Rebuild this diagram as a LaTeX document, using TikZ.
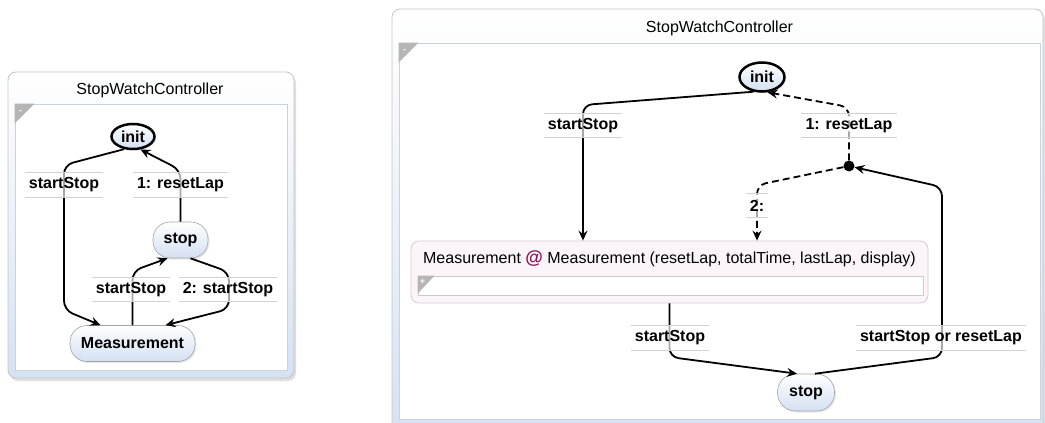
\documentclass[tikz,border=0pt]{standalone}
\usepackage{fontspec}
\setmainfont{Liberation Sans}
\usetikzlibrary{arrows.meta,shadows,calc,shapes.geometric}

\definecolor{nodeblue}{HTML}{D3E0F2}
\definecolor{nodeline}{HTML}{A4A4A4}
\definecolor{panelblue}{HTML}{D5E2F3}
\definecolor{panelline}{HTML}{C4C4C4}
\definecolor{innerline}{HTML}{C9D3DF}
\definecolor{lblline}{HTML}{D2D2D2}
\definecolor{triangray}{HTML}{B5B5B5}
\definecolor{mcfill}{HTML}{FBF5F9}
\definecolor{mcline}{HTML}{D6CBD2}
\definecolor{barline}{HTML}{CCCCCC}
\definecolor{atcolor}{HTML}{8A1454}

\tikzset{
  txt/.style={font=\fontsize{16}{19}\selectfont},
  boldtxt/.style={font=\fontsize{16}{19}\selectfont\bfseries},
  panel/.style={draw=panelline, line width=0.8pt, rounded corners=8pt,
    top color=white, bottom color=panelblue, inner sep=0,
    drop shadow={shadow xshift=2pt, shadow yshift=-3pt, opacity=0.25}},
  innerarea/.style={draw=innerline, fill=white, line width=0.8pt, inner sep=0},
  pill/.style={boldtxt, draw=nodeline, line width=0.6pt, top color=white,
    bottom color=nodeblue, inner sep=0,
    drop shadow={shadow xshift=1.5pt, shadow yshift=-1.5pt, opacity=0.18}},
  initstate/.style={boldtxt, ellipse, draw=black, line width=2.5pt, top color=white,
    bottom color=nodeblue, inner sep=0,
    drop shadow={shadow xshift=1.5pt, shadow yshift=-1.5pt, opacity=0.18}},
  edge/.style={draw=black, line width=1.8pt, rounded corners=9pt,
    -{Stealth[length=10pt,width=9pt,inset=3.5pt]}},
  dashedge/.style={edge, dash pattern=on 7pt off 4pt},
  tlabel/.style={boldtxt, inner xsep=4pt, inner ysep=0, minimum height=24pt,
    fill=white, fill opacity=0.65, text opacity=1},
  foldmark/.style={font=\fontsize{9}{9}\selectfont\bfseries, text=white, inner sep=0},
}

% transition label with thin rules above and below
\newcommand{\translabel}[3]{%
  \node[tlabel] (#1) at #2 {#3};
  \draw[lblline, line width=0.8pt] (#1.north west) -- (#1.north east)
                                   (#1.south west) -- (#1.south east);}

\begin{document}
\begin{tikzpicture}[x=1pt,y=-1pt]
\useasboundingbox (0,0) rectangle (1045,423);

% ---------------- small controller ----------------
\node[panel, minimum width=286pt, minimum height=306pt] (lpanel) at (151,225) {};
\node[txt] (ltitle) at (150,90) {StopWatchController};
\node[innerarea, minimum width=272pt, minimum height=266pt] (linner) at (151,237) {};
\fill[triangray] (linner.north west) -- ++(20,0) -- ++(-20,20) -- cycle;
\node[foldmark] (lfold) at ($(linner.north west)+(6,8)$) {-};

\node[initstate, minimum width=43pt, minimum height=25pt] (li) at (133,136.5) {init};
\node[pill, rounded corners=17pt, minimum width=55pt, minimum height=36pt] (ls) at (180.5,240) {stop};
\node[pill, rounded corners=17pt, minimum width=125pt, minimum height=36pt] (lm) at (132.5,343.5) {Measurement};

\coordinate (b1) at (64,165);
\coordinate (b2) at (64,310);
\coordinate (c1) at (180.5,170);
\coordinate (d1) at (132.5,271);
\coordinate (e1) at (229,272);
\coordinate (e2) at (229,309);

\draw[edge] (li.235) -- (b1) -- (b2) -- ($(lm.north)+(-32,0)$);
\draw[edge] (ls.north) -- (c1) -- (li.300);
\draw[edge] (lm.north) -- (d1) -- ($(ls.south)+(-13,0)$);
\draw[edge] ($(ls.south)+(10,0)$) -- (e1) -- (e2) -- ($(lm.north)+(33,0)$);

\translabel{la}{(64,185)}{startStop}
\translabel{lb}{(180.5,185)}{1: resetLap}
\translabel{lc}{(131,289.5)}{startStop}
\translabel{ld}{(228,289.5)}{2: startStop}

% ---------------- large controller ----------------
\node[panel, minimum width=651pt, minimum height=431pt] (rpanel) at (717.5,224.5) {};
\node[txt] (rtitle) at (719.5,28) {StopWatchController};
\node[innerarea, minimum width=641pt, minimum height=376pt] (rinner) at (719.5,231) {};
\fill[triangray] (rinner.north west) -- ++(20,0) -- ++(-20,20) -- cycle;
\node[foldmark] (rfold) at ($(rinner.north west)+(6,8)$) {-};

\node[initstate, minimum width=45pt, minimum height=29pt] (ri) at (762,77) {init};
\node[pill, rounded corners=18pt, minimum width=57pt, minimum height=37pt] (rs) at (806,392.5) {stop};

% composite state
\node[draw=mcline, fill=mcfill, line width=0.8pt, rounded corners=8pt, inner sep=0,
      minimum width=517pt, minimum height=62pt] (mc) at (669.5,272) {};
\node[txt, inner sep=0] (mctitle) at (669.5,259)
  {Measurement \textcolor{atcolor}{\fontsize{18}{19}\selectfont\bfseries @} Measurement (resetLap, totalTime, lastLap, display)};
\node[draw=barline, fill=white, line width=0.8pt, inner sep=0,
      minimum width=505pt, minimum height=19pt] (mcbar) at (670.5,285.5) {};
\fill[triangray] (mcbar.north west) -- ++(17,0) -- ++(-17,18) -- cycle;
\node[foldmark] (mcfold) at ($(mcbar.north west)+(5,6)$) {+};

\node[circle, fill=black, inner sep=0, minimum size=11pt] (jn) at (849,166) {};

\coordinate (r1) at (583,105);
\coordinate (r2) at (849,107);
\coordinate (r3) at (757,185);
\coordinate (r4) at (669.5,357);
\coordinate (r5) at (942,357);
\coordinate (r6) at (942,187);

\draw[edge] (ri.240) -- (r1) -- (r1 |- mc.north);
\draw[dashedge] (jn) -- (r2) -- (ri.290);
\draw[dashedge] (jn) -- (r3) -- (r3 |- mc.north);
\draw[edge] (mc.south) -- (r4) -- ($(rs.north)+(-9,0)$);
\draw[edge] ($(rs.north)+(9,0)$) -- (r5) -- (r6) -- (jn);

\translabel{ra}{(583,125.5)}{startStop}
\translabel{rb}{(849,125.5)}{1: resetLap}
\translabel{rc}{(757,205.5)}{2:}
\translabel{rd}{(670,338)}{startStop}
\translabel{re}{(941,338)}{startStop or resetLap}
\end{tikzpicture}
\end{document}
